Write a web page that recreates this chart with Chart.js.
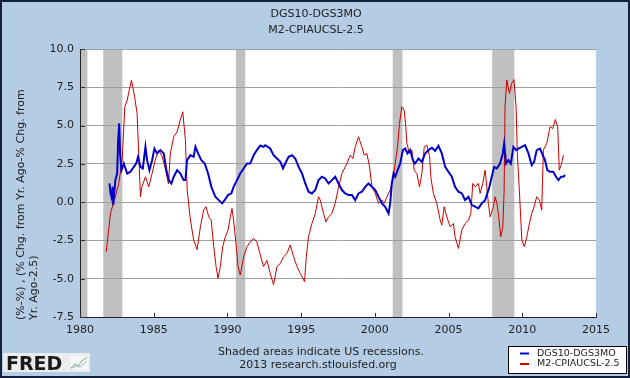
<!DOCTYPE html>
<html><head><meta charset="utf-8">
<script src="https://cdn.jsdelivr.net/npm/chart.js@4.4.0/dist/chart.umd.min.js"></script>
<style>html,body{margin:0;padding:0;background:#b4cce4;}canvas{display:block}</style>
</head><body><div style="width:630px;height:378px"><canvas id="c" width="630" height="378"></canvas></div>
<script>
const titleLines = ['DGS10-DGS3MO', 'M2-CPIAUCSL-2.5'];
const yAxisTitle = ['(%-%) , (% Chg. from Yr. Ago-% Chg. from', 'Yr. Ago-2.5)'];
const footnotes = ['Shaded areas indicate US recessions.', '2013 research.stlouisfed.org'];
const seriesLabels = ['DGS10-DGS3MO', 'M2-CPIAUCSL-2.5'];
const yTickValues = [-7.5, -5, -2.5, 0, 2.5, 5, 7.5, 10];
const xTickYears = [1980, 1985, 1990, 1995, 2000, 2005, 2010, 2015];
const recessions = [[1980.0, 1980.5], [1981.58, 1982.87], [1990.58, 1991.21], [2001.21, 2001.87], [2007.96, 2009.46]];

const spreadYears = [1982.00,1982.07,1982.13,1982.22,1982.25,1982.35,1982.40,1982.52,1982.59,1982.66,1982.72,1982.81,1982.97,1983.20,1983.42,1983.65,1983.81,1983.94,1984.10,1984.26,1984.44,1984.55,1984.71,1984.89,1985.05,1985.23,1985.45,1985.68,1985.86,1986.02,1986.20,1986.36,1986.59,1986.81,1987.03,1987.15,1987.26,1987.49,1987.71,1987.83,1988.01,1988.23,1988.46,1988.69,1988.91,1989.18,1989.41,1989.64,1989.81,1990.04,1990.27,1990.42,1990.65,1990.87,1991.10,1991.33,1991.55,1991.78,1992.00,1992.23,1992.45,1992.57,1992.90,1993.13,1993.36,1993.59,1993.77,1993.92,1994.15,1994.38,1994.60,1994.83,1995.06,1995.28,1995.50,1995.73,1995.96,1996.18,1996.41,1996.63,1996.86,1997.09,1997.31,1997.54,1997.77,1997.99,1998.22,1998.45,1998.67,1998.89,1999.12,1999.35,1999.57,1999.80,2000.03,2000.25,2000.48,2000.70,2000.93,2001.04,2001.15,2001.27,2001.38,2001.54,2001.72,2001.90,2002.06,2002.21,2002.40,2002.58,2002.73,2002.96,2003.19,2003.41,2003.64,2003.87,2004.09,2004.31,2004.54,2004.77,2004.99,2005.22,2005.44,2005.67,2005.90,2006.12,2006.35,2006.58,2006.80,2007.02,2007.25,2007.48,2007.63,2007.77,2007.93,2008.09,2008.27,2008.49,2008.68,2008.77,2008.90,2009.06,2009.22,2009.40,2009.58,2009.74,2009.97,2010.19,2010.42,2010.64,2010.80,2010.98,2011.20,2011.39,2011.54,2011.70,2011.88,2012.10,2012.29,2012.45,2012.63,2012.79,2012.90];
const spreadValues = [1.22,0.6,0.35,1.0,-0.2,0.9,1.44,1.87,4.05,5.14,3.18,2.09,2.52,1.87,1.98,2.3,2.52,2.96,2.3,2.2,3.61,2.74,2.09,2.74,3.5,3.18,3.4,3.18,2.09,1.44,1.22,1.66,2.09,1.87,1.44,1.44,2.74,3.07,2.96,3.61,3.18,2.74,2.52,1.87,1.0,0.35,0.13,-0.08,0.13,0.46,0.57,1.0,1.44,1.87,2.2,2.52,2.52,3.07,3.4,3.7,3.61,3.72,3.5,3.07,2.85,2.63,2.2,2.52,2.96,3.07,2.85,2.3,1.87,1.22,0.68,0.57,0.79,1.44,1.66,1.55,1.22,1.44,1.66,1.22,0.79,0.57,0.46,0.46,0.13,0.57,0.68,1.0,1.22,1.0,0.79,0.35,-0.08,-0.3,-0.74,-0.08,1.22,1.87,1.66,2.09,2.52,3.4,3.5,3.18,3.4,2.74,2.52,2.85,2.63,3.18,3.4,3.55,3.35,3.68,3.18,2.3,1.98,1.66,1.0,0.68,0.57,0.13,0.35,-0.19,-0.3,-0.41,-0.08,0.13,0.57,1.0,1.66,2.3,2.2,2.52,3.18,3.83,2.52,2.74,2.52,3.61,3.4,3.5,3.61,3.72,3.18,2.41,2.63,3.4,3.5,3.07,2.74,2.09,1.98,1.98,1.66,1.44,1.66,1.66,1.77];

const m2Years = [1981.78,1982.07,1982.30,1982.63,1982.86,1983.04,1983.20,1983.49,1983.70,1983.87,1983.99,1984.10,1984.20,1984.44,1984.66,1984.89,1985.10,1985.34,1985.57,1985.80,1986.00,1986.13,1986.36,1986.59,1986.80,1986.97,1987.15,1987.27,1987.49,1987.71,1987.94,1988.17,1988.39,1988.55,1988.73,1988.90,1989.07,1989.23,1989.36,1989.52,1989.68,1989.86,1990.04,1990.20,1990.31,1990.42,1990.58,1990.72,1990.87,1991.10,1991.33,1991.55,1991.78,1992.00,1992.23,1992.45,1992.68,1992.90,1993.13,1993.36,1993.59,1993.81,1994.04,1994.26,1994.49,1994.72,1994.94,1995.23,1995.35,1995.50,1995.73,1995.96,1996.18,1996.30,1996.52,1996.68,1996.86,1997.09,1997.31,1997.54,1997.77,1998.10,1998.33,1998.51,1998.67,1998.89,1999.12,1999.28,1999.46,1999.64,1999.80,2000.03,2000.25,2000.48,2000.63,2000.82,2001.04,2001.22,2001.38,2001.54,2001.67,2001.83,2001.99,2002.10,2002.17,2002.35,2002.51,2002.67,2002.85,2003.03,2003.19,2003.35,2003.53,2003.71,2003.80,2003.97,2004.20,2004.43,2004.54,2004.70,2004.88,2005.10,2005.33,2005.44,2005.67,2005.90,2006.12,2006.35,2006.51,2006.64,2006.80,2007.02,2007.14,2007.32,2007.48,2007.59,2007.70,2007.82,2008.04,2008.16,2008.27,2008.38,2008.54,2008.68,2008.77,2008.83,2008.95,2009.13,2009.28,2009.44,2009.58,2009.67,2009.80,2009.97,2010.14,2010.31,2010.48,2010.64,2010.80,2010.98,2011.16,2011.32,2011.43,2011.66,2011.88,2012.07,2012.24,2012.40,2012.51,2012.63,2012.72,2012.79];
const m2Values = [-3.24,-0.7,0.0,1.22,2.75,6.23,6.67,7.97,6.9,5.8,3.0,0.35,1.0,1.66,1.0,1.87,2.74,3.4,3.0,2.1,1.2,3.2,4.27,4.6,5.37,5.9,4.05,0.79,-1.17,-2.47,-3.1,-1.6,-0.5,-0.3,-0.96,-1.17,-2.9,-4.2,-4.97,-4.2,-2.9,-2.26,-1.82,-0.96,-0.41,-1.17,-2.7,-4.2,-4.76,-3.57,-2.9,-2.6,-2.37,-2.6,-3.45,-4.2,-3.8,-4.65,-5.4,-4.2,-4.0,-3.57,-3.35,-2.8,-3.57,-4.2,-4.65,-5.2,-3.57,-2.26,-1.4,-0.74,0.35,0.13,-0.74,-1.28,-0.96,-0.74,-0.08,1.0,1.87,2.52,3.07,2.85,3.61,4.27,3.61,3.07,3.18,2.3,1.0,0.57,-0.08,0.13,-0.08,0.35,0.79,1.44,2.52,3.61,5.14,6.23,6.0,4.92,3.83,3.18,3.4,2.09,1.87,1.0,1.87,3.61,3.72,3.0,1.6,0.57,-0.08,-1.17,-1.5,-0.3,-0.96,-1.6,-1.4,-2.26,-3.02,-1.82,-1.4,-1.17,-0.74,1.22,1.0,1.22,0.57,1.22,2.09,1.0,-0.08,-0.96,-0.3,0.35,-0.08,-0.74,-2.26,-1.6,0.79,6.23,7.97,7.1,7.75,8.0,6.23,3.0,0.79,-2.47,-2.9,-2.26,-1.4,-0.74,-0.3,0.35,0.13,-0.52,3.4,3.83,4.92,4.81,5.4,4.92,2.09,2.41,2.74,3.07];

const BG = '#b4cce4';
const FONT = '"DejaVu Sans", Verdana, sans-serif';
const TXT = '#222';

const pts = (xs, ys) => xs.map((x, i) => ({x: x, y: ys[i]}));

const decor = {
  id: 'decor',
  beforeDraw(chart) {
    const ctx = chart.ctx, a = chart.chartArea, xs = chart.scales.x;
    ctx.save();
    ctx.fillStyle = BG;
    ctx.fillRect(0, 0, chart.width, chart.height);
    ctx.fillStyle = '#ffffff';
    ctx.fillRect(a.left, a.top, a.right - a.left, a.bottom - a.top);
    ctx.fillStyle = '#c0c0c0';
    recessions.forEach(r => {
      const x0 = xs.getPixelForValue(r[0]), x1 = xs.getPixelForValue(r[1]);
      ctx.fillRect(x0, a.top, x1 - x0, a.bottom - a.top);
    });
    ctx.restore();
  },
  afterDraw(chart) {
    const ctx = chart.ctx, a = chart.chartArea, xs = chart.scales.x, ys = chart.scales.y;
    ctx.save();
    ctx.strokeStyle = '#333';
    ctx.lineWidth = 1;
    xTickYears.forEach(v => {
      const px = Math.round(xs.getPixelForValue(v)) + 0.5;
      ctx.beginPath(); ctx.moveTo(px, a.bottom); ctx.lineTo(px, a.bottom - 4); ctx.stroke();
    });
    yTickValues.forEach(v => {
      const py = Math.round(ys.getPixelForValue(v)) + 0.5;
      ctx.beginPath(); ctx.moveTo(a.left, py); ctx.lineTo(a.left + 5, py); ctx.stroke();
    });
    ctx.fillStyle = TXT;
    ctx.font = '11px ' + FONT;
    ctx.textAlign = 'center';
    ctx.textBaseline = 'middle';
    ctx.fillText(titleLines[0], 316, 14);
    ctx.fillText(titleLines[1], 316, 30);
    ctx.fillText(footnotes[0], 321, 352);
    ctx.fillText(footnotes[1], 318, 365);
    ctx.save();
    ctx.translate(21, 320);
    ctx.rotate(-Math.PI / 2);
    ctx.textAlign = 'left';
    ctx.fillText(yAxisTitle[0], 0, 0);
    ctx.fillText(yAxisTitle[1], 0, 13);
    ctx.restore();
    ctx.fillStyle = '#ffffff';
    ctx.fillRect(508, 346, 119, 28);
    ctx.strokeStyle = '#000';
    ctx.strokeRect(508.5, 346.5, 118, 27);
    ctx.font = '9.5px ' + FONT;
    ctx.textAlign = 'left';
    chart.data.datasets.forEach((d, i) => {
      const y = 353.5 + i * 10.5;
      ctx.strokeStyle = d.borderColor;
      ctx.lineWidth = 2;
      ctx.beginPath(); ctx.moveTo(520, y); ctx.lineTo(529, y); ctx.stroke();
      ctx.fillStyle = TXT;
      ctx.fillText(d.label, 537, y);
    });
    ctx.fillStyle = '#ececec';
    ctx.fillRect(3, 353, 87, 19);
    ctx.fillStyle = '#1a1a1a';
    ctx.font = 'bold 19px ' + FONT;
    ctx.textBaseline = 'alphabetic';
    ctx.fillText('FRED', 6, 370);
    ctx.fillStyle = '#f6f6f6';
    ctx.fillRect(70, 356, 18, 14);
    ctx.strokeStyle = '#7aa86a'; ctx.lineWidth = 1;
    ctx.beginPath(); ctx.moveTo(71, 368); ctx.lineTo(75, 364); ctx.lineTo(78, 366); ctx.lineTo(82, 361); ctx.lineTo(87, 357); ctx.stroke();
    ctx.strokeStyle = '#9ab0c8';
    ctx.beginPath(); ctx.moveTo(71, 369); ctx.lineTo(76, 366); ctx.lineTo(80, 367); ctx.lineTo(87, 361); ctx.stroke();
    ctx.strokeStyle = '#14213a';
    ctx.lineWidth = 2;
    ctx.strokeRect(1, 1, chart.width - 2, chart.height - 2);
    ctx.restore();
  }
};

new Chart(document.getElementById('c'), {
  type: 'line',
  data: {
    datasets: [
      {label: seriesLabels[0], data: pts(spreadYears, spreadValues), borderColor: '#0000cc', borderWidth: 2, pointRadius: 0, tension: 0},
      {label: seriesLabels[1], data: pts(m2Years, m2Values), borderColor: '#cc0000', borderWidth: 1, pointRadius: 0, tension: 0}
    ]
  },
  options: {
    responsive: false,
    animation: false,
    devicePixelRatio: 1,
    layout: {padding: {top: 49, right: 34, left: 0, bottom: 0}},
    plugins: {legend: {display: false}, title: {display: false}, tooltip: {enabled: false}},
    scales: {
      x: {
        type: 'linear', min: 1980, max: 2015,
        afterFit: s => { s.height = 61; },
        afterBuildTicks: s => { s.ticks = xTickYears.map(v => ({value: v})); },
        ticks: {font: {family: FONT, size: 11}, color: TXT, padding: 7, maxRotation: 0, callback: v => String(v)},
        grid: {display: false, drawTicks: false},
        border: {display: true, color: '#222', width: 1}
      },
      y: {
        min: -7.5, max: 10,
        afterFit: s => { s.width = 80; },
        afterBuildTicks: s => { s.ticks = yTickValues.map(v => ({value: v})); },
        ticks: {font: {family: FONT, size: 11}, color: TXT, padding: 6, callback: v => Number(v).toFixed(1)},
        grid: {color: '#a0a0a0', drawTicks: false, lineWidth: 1},
        border: {display: true, color: '#222', width: 1}
      }
    }
  },
  plugins: [decor]
});
</script>
</body></html>
